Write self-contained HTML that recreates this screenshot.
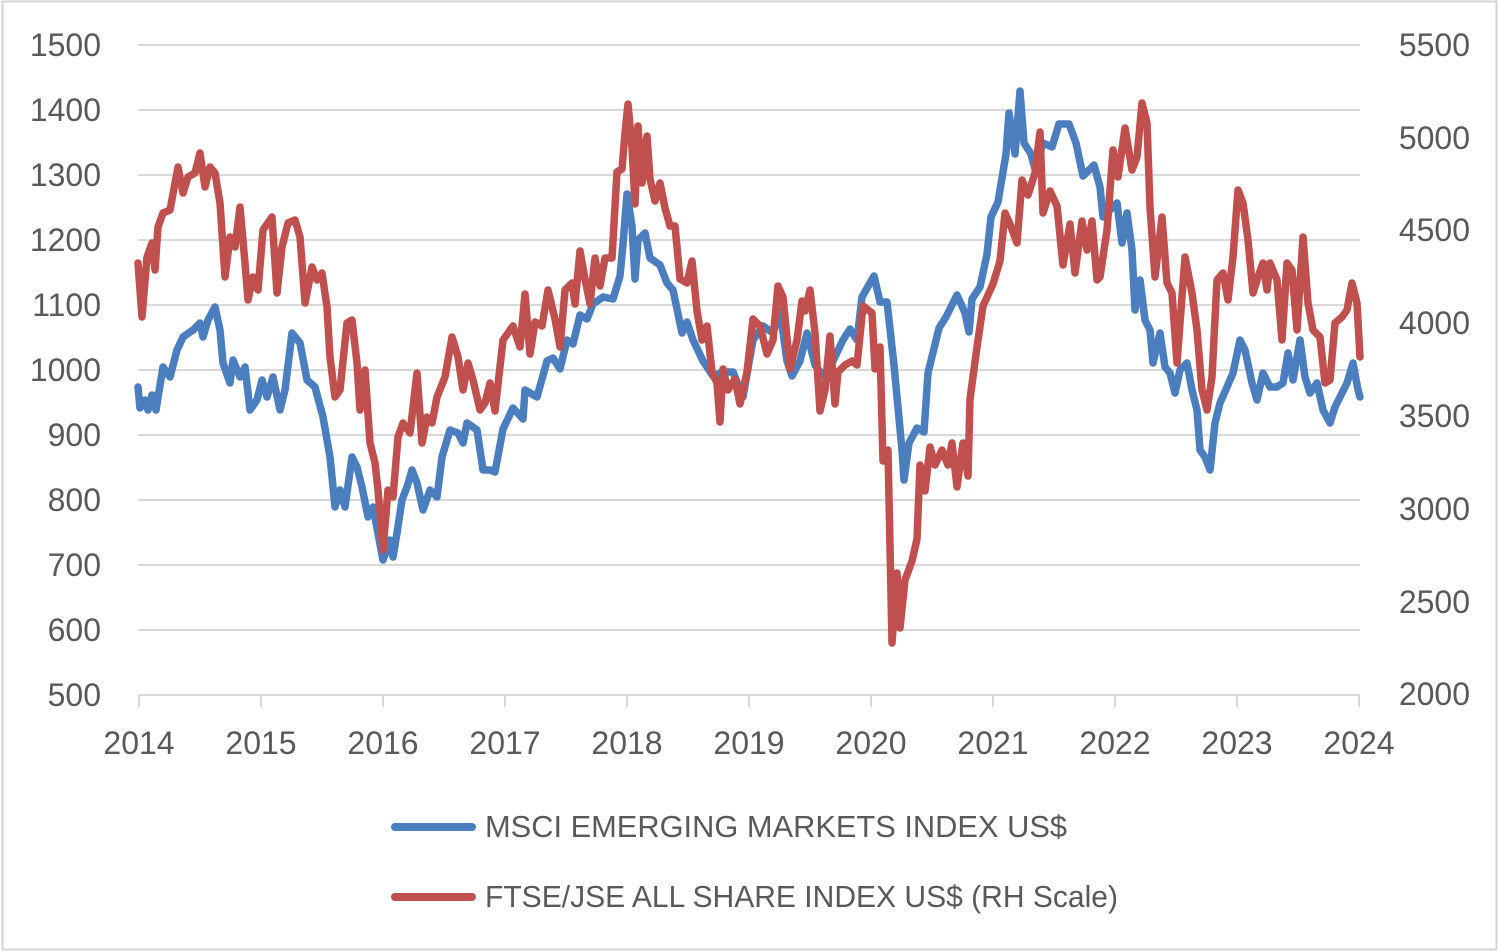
<!DOCTYPE html>
<html>
<head>
<meta charset="utf-8">
<style>
  html, body { margin: 0; padding: 0; background: #ffffff; }
  svg { display: block; }
  text { font-family: "Liberation Sans", "DejaVu Sans", sans-serif; fill: #595959; }
</style>
</head>
<body>
<svg width="1499" height="952" viewBox="0 0 1499 952" xmlns="http://www.w3.org/2000/svg">
  <rect x="0" y="0" width="1499" height="952" fill="#ffffff"/>
  <rect x="2.5" y="1.5" width="1494" height="948" fill="none" stroke="#d4d4d4" stroke-width="2"/>

  <!-- gridlines -->
  <g stroke="#d9d9d9" stroke-width="2">
    <line x1="138" y1="45" x2="1360" y2="45"/>
    <line x1="138" y1="110" x2="1360" y2="110"/>
    <line x1="138" y1="175" x2="1360" y2="175"/>
    <line x1="138" y1="240" x2="1360" y2="240"/>
    <line x1="138" y1="305" x2="1360" y2="305"/>
    <line x1="138" y1="370" x2="1360" y2="370"/>
    <line x1="138" y1="435" x2="1360" y2="435"/>
    <line x1="138" y1="500" x2="1360" y2="500"/>
    <line x1="138" y1="565" x2="1360" y2="565"/>
    <line x1="138" y1="630" x2="1360" y2="630"/>
    <line x1="138" y1="695" x2="1360" y2="695"/>
    <!-- ticks -->
    <line x1="139" y1="695" x2="139" y2="707"/>
    <line x1="261" y1="695" x2="261" y2="707"/>
    <line x1="383" y1="695" x2="383" y2="707"/>
    <line x1="505" y1="695" x2="505" y2="707"/>
    <line x1="627" y1="695" x2="627" y2="707"/>
    <line x1="749" y1="695" x2="749" y2="707"/>
    <line x1="871" y1="695" x2="871" y2="707"/>
    <line x1="993" y1="695" x2="993" y2="707"/>
    <line x1="1115" y1="695" x2="1115" y2="707"/>
    <line x1="1237" y1="695" x2="1237" y2="707"/>
    <line x1="1359" y1="695" x2="1359" y2="707"/>
  </g>

  <!-- left axis labels -->
  <g font-size="32" text-anchor="end">
    <text x="101" y="56">1500</text>
    <text x="101" y="121">1400</text>
    <text x="101" y="186">1300</text>
    <text x="101" y="251">1200</text>
    <text x="101" y="316">1100</text>
    <text x="101" y="381">1000</text>
    <text x="101" y="446">900</text>
    <text x="101" y="511">800</text>
    <text x="101" y="576">700</text>
    <text x="101" y="641">600</text>
    <text x="101" y="706">500</text>
  </g>

  <!-- right axis labels -->
  <g font-size="32" text-anchor="end">
    <text x="1470" y="56">5500</text>
    <text x="1470" y="149">5000</text>
    <text x="1470" y="241">4500</text>
    <text x="1470" y="334">4000</text>
    <text x="1470" y="427">3500</text>
    <text x="1470" y="520">3000</text>
    <text x="1470" y="613">2500</text>
    <text x="1470" y="705">2000</text>
  </g>

  <!-- x axis labels -->
  <g font-size="32" text-anchor="middle">
    <text x="139" y="754">2014</text>
    <text x="261" y="754">2015</text>
    <text x="383" y="754">2016</text>
    <text x="505" y="754">2017</text>
    <text x="627" y="754">2018</text>
    <text x="749" y="754">2019</text>
    <text x="871" y="754">2020</text>
    <text x="993" y="754">2021</text>
    <text x="1115" y="754">2022</text>
    <text x="1237" y="754">2023</text>
    <text x="1359" y="754">2024</text>
  </g>

  <!-- MSCI blue -->
  <polyline fill="none" stroke="#4a7ebf" stroke-width="7.5" stroke-linejoin="round" stroke-linecap="round"
    points="138,387 140,408 145,400 148,410 152,395 156,410 163,367 170,377 177,350 183,337 193,330 200,323 203,337 208,320 215,307 220,330 223,363 230,383 233,360 240,377 245,367 250,410 257,400 262,380 267,397 273,377 280,410 285,390 292,333 300,343 307,380 315,387 323,417 330,457 335,507 340,490 345,507 352,457 357,467 362,487 368,517 373,507 383,560 390,540 393,557 397,533 402,500 407,487 412,470 417,483 423,510 430,490 437,497 442,457 450,430 458,433 463,443 467,423 477,430 483,470 490,470 495,472 503,429 513,408 523,419 525,390 537,397 547,361 553,358 560,369 567,340 573,344 580,315 587,319 593,304 603,297 613,299 620,276 623,244 627,194 632,226 635,279 638,240 645,233 650,258 660,265 667,283 673,290 682,333 687,322 693,340 703,361 713,376 723,372 733,372 743,397 753,340 763,326 773,333 780,311 787,361 792,376 800,361 807,333 815,365 823,376 833,361 843,340 850,329 857,340 862,297 874,276 880,302 887,302 894,365 902,450 904,480 909,443 917,428 924,432 928,373 939,328 946,317 957,295 965,313 969,332 972,299 980,287 987,254 991,217 998,202 1006,154 1009,113 1015,154 1020,91 1024,143 1031,154 1035,169 1043,143 1052,147 1059,124 1069,124 1076,143 1083,176 1094,165 1100,187 1103,217 1110,210 1117,203 1122,243 1127,213 1132,250 1135,310 1140,280 1145,320 1150,330 1153,363 1160,333 1165,367 1170,373 1175,393 1180,370 1187,363 1192,390 1197,410 1200,450 1205,457 1210,470 1215,423 1220,403 1227,387 1233,373 1240,340 1245,350 1252,383 1257,400 1263,373 1270,387 1277,387 1283,383 1288,353 1293,380 1300,340 1305,377 1310,393 1317,383 1323,410 1330,423 1335,407 1340,397 1347,383 1353,363 1358,390 1360,397"/>

  <!-- FTSE/JSE red -->
  <polyline fill="none" stroke="#c0504d" stroke-width="7.5" stroke-linejoin="round" stroke-linecap="round"
    points="138,263 142,317 147,257 152,243 155,270 158,227 163,213 170,210 178,167 183,193 188,177 195,173 200,153 205,187 210,167 215,173 220,203 225,277 230,237 235,247 240,207 245,263 248,300 253,277 258,290 263,230 272,217 277,293 282,247 288,223 295,220 300,237 305,303 312,267 317,280 322,273 327,307 330,357 335,397 340,390 347,323 352,320 357,363 360,410 365,370 370,443 375,463 378,490 383,550 388,490 393,497 398,437 403,423 410,433 417,373 422,443 427,417 432,423 437,397 445,377 452,337 458,357 463,390 468,363 473,380 480,410 485,403 490,383 495,411 503,340 513,326 520,347 525,294 530,354 535,322 542,326 548,290 555,319 560,347 565,290 572,283 575,304 580,251 585,279 590,304 595,258 600,286 605,258 612,258 617,172 622,169 625,133 628,104 632,147 635,204 638,126 642,183 647,136 650,179 655,201 660,183 665,208 670,226 675,226 680,279 687,283 692,261 697,311 702,340 707,326 712,372 717,383 720,422 723,369 728,390 735,379 740,404 747,372 753,319 760,326 767,354 773,340 778,286 783,297 790,369 797,340 802,301 805,311 810,290 815,333 820,411 825,390 830,336 835,404 838,372 845,365 852,361 857,365 863,306 872,313 875,369 880,347 883,461 888,450 892,643 897,573 900,628 905,580 912,561 917,539 920,465 925,491 930,447 935,465 942,450 948,465 952,443 957,487 963,443 968,476 970,399 977,347 983,306 993,284 1000,261 1005,213 1010,224 1017,243 1022,180 1028,195 1035,173 1040,132 1043,213 1050,191 1057,206 1063,265 1070,224 1075,273 1082,221 1087,250 1092,221 1097,280 1100,277 1107,230 1113,150 1118,177 1125,128 1132,170 1137,157 1142,103 1147,123 1150,207 1155,277 1162,217 1167,283 1172,293 1177,363 1185,257 1192,293 1197,330 1202,390 1207,410 1212,377 1217,280 1223,273 1228,300 1233,257 1238,190 1243,203 1248,240 1253,293 1258,277 1263,263 1267,290 1270,263 1277,280 1282,340 1287,263 1292,270 1297,330 1303,237 1308,303 1313,330 1320,337 1325,383 1330,380 1335,323 1342,317 1347,310 1352,283 1357,303 1360,357"/>

  <!-- legend -->
  <line x1="395" y1="827" x2="472" y2="827" stroke="#4a7ebf" stroke-width="8" stroke-linecap="round"/>
  <text x="485" y="837" font-size="31" textLength="582" lengthAdjust="spacingAndGlyphs">MSCI EMERGING MARKETS INDEX US$</text>
  <line x1="395" y1="897" x2="472" y2="897" stroke="#c0504d" stroke-width="8" stroke-linecap="round"/>
  <text x="485" y="907" font-size="31" textLength="633" lengthAdjust="spacingAndGlyphs">FTSE/JSE ALL SHARE INDEX US$ (RH Scale)</text>
</svg>
</body>
</html>
